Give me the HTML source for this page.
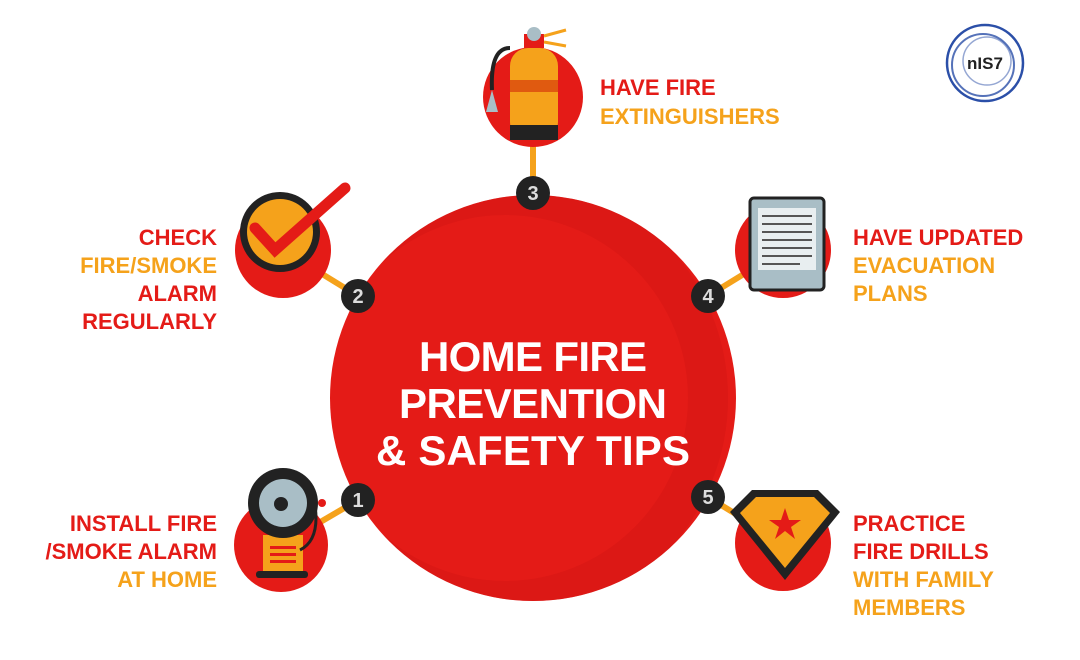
<!DOCTYPE html>
<html><head><meta charset="utf-8"><style>
body{margin:0;background:#fff;width:1080px;height:660px;overflow:hidden}
svg{display:block}
text{font-family:"Liberation Sans",sans-serif;font-weight:bold}
</style></head><body>
<svg width="1080" height="660" viewBox="0 0 1080 660">
<defs><clipPath id="cc"><circle cx="533" cy="398" r="203"/></clipPath></defs>
<g stroke="#f5a21b" stroke-width="6">
<line x1="281" y1="545" x2="358" y2="500"/><line x1="283" y1="250" x2="358" y2="296"/>
<line x1="533" y1="97" x2="533" y2="193"/><line x1="783" y1="250" x2="708" y2="296"/>
<line x1="783" y1="543" x2="708" y2="497"/>
</g>
<circle cx="533" cy="398" r="203" fill="#e41b17"/>
<g clip-path="url(#cc)"><circle cx="505" cy="398" r="203" fill="none" stroke="#d41513" stroke-width="40" stroke-dasharray="0 0" opacity="0.5" transform="rotate(0)"/></g>
<circle cx="533" cy="398" r="203" fill="none" stroke="#e41b17" stroke-width="0"/>
<g fill="#fff" font-size="42" text-anchor="middle">
<text x="533" y="371" textLength="228">HOME FIRE</text><text x="533" y="418" textLength="268">PREVENTION</text><text x="533" y="465" textLength="314">&amp; SAFETY TIPS</text>
</g>
<g>
<circle cx="281" cy="545" r="47" fill="#e41b17"/>
<rect x="263" y="535" width="40" height="40" fill="#f5a21b"/>
<rect x="270" y="546" width="26" height="3" fill="#e41b17"/><rect x="270" y="553" width="26" height="3" fill="#e41b17"/><rect x="270" y="560" width="26" height="3" fill="#e41b17"/>
<rect x="256" y="571" width="52" height="7" rx="3" fill="#222"/>
<path d="M315 505 Q320 540 300 550" stroke="#222" stroke-width="3" fill="none"/><circle cx="322" cy="503" r="4" fill="#e41b17"/>
<circle cx="283" cy="503" r="35" fill="#222"/><circle cx="283" cy="503" r="24" fill="#a9bec6"/><circle cx="281" cy="504" r="7" fill="#222"/>
</g>
<g>
<circle cx="283" cy="250" r="48" fill="#e41b17"/>
<circle cx="280" cy="232" r="40" fill="#222"/><circle cx="280" cy="232" r="33" fill="#f5a21b"/>
<path d="M255 228 L275 250 L345 188" stroke="#e41b17" stroke-width="11" fill="none" stroke-linecap="round"/>
</g>
<g>
<circle cx="533" cy="97" r="50" fill="#e41b17"/>
<path d="M510 48 Q490 48 492 90" stroke="#222" stroke-width="4" fill="none"/><path d="M486 112 L492 90 L498 112Z" fill="#a9bec6"/>
<rect x="510" y="48" width="48" height="92" rx="18" fill="#f5a21b"/>
<rect x="510" y="80" width="48" height="12" fill="#e05a10"/><rect x="510" y="125" width="48" height="15" fill="#222"/>
<rect x="524" y="34" width="20" height="14" fill="#e41b17"/><circle cx="534" cy="34" r="7" fill="#a9bec6"/>
<path d="M544 36 L566 30 M544 42 L566 46" stroke="#f5a21b" stroke-width="3"/>
</g>
<g>
<circle cx="783" cy="250" r="48" fill="#e41b17"/>
<rect x="750" y="198" width="74" height="92" rx="4" fill="#a9bec6" stroke="#222" stroke-width="3"/>
<rect x="758" y="208" width="58" height="62" fill="#e8eef0"/>
<g stroke="#555" stroke-width="2"><line x1="762" y1="216" x2="812" y2="216"/><line x1="762" y1="224" x2="812" y2="224"/><line x1="762" y1="232" x2="812" y2="232"/><line x1="762" y1="240" x2="812" y2="240"/><line x1="762" y1="248" x2="812" y2="248"/><line x1="762" y1="256" x2="812" y2="256"/><line x1="762" y1="264" x2="800" y2="264"/></g>
</g>
<g>
<circle cx="783" cy="543" r="48" fill="#e41b17"/>
<path d="M752 490 L818 490 L840 512 L785 580 L730 512Z" fill="#222"/>
<path d="M756 497 L814 497 L830 513 L785 568 L740 513Z" fill="#f5a21b"/>
<polygon points="785,508 789,520 801,520 791,527 795,539 785,531 775,539 779,527 769,520 781,520" fill="#e41b17"/>
</g>
<g font-size="20" text-anchor="middle" fill="#ddd">
<circle cx="358" cy="500" r="17" fill="#222"/><text x="358" y="507">1</text>
<circle cx="358" cy="296" r="17" fill="#222"/><text x="358" y="303">2</text>
<circle cx="533" cy="193" r="17" fill="#222"/><text x="533" y="200">3</text>
<circle cx="708" cy="296" r="17" fill="#222"/><text x="708" y="303">4</text>
<circle cx="708" cy="497" r="17" fill="#222"/><text x="708" y="504">5</text>
</g>
<g font-size="22">
<g text-anchor="end">
<text x="217" y="245" fill="#e41b17">CHECK</text><text x="217" y="273" fill="#f5a21b">FIRE/SMOKE</text><text x="217" y="301" fill="#e41b17">ALARM</text><text x="217" y="329" fill="#e41b17">REGULARLY</text>
<text x="217" y="531" fill="#e41b17">INSTALL FIRE</text><text x="217" y="559" fill="#e41b17">/SMOKE ALARM</text><text x="217" y="587" fill="#f5a21b">AT HOME</text>
</g>
<text x="600" y="95" fill="#e41b17">HAVE FIRE</text><text x="600" y="124" fill="#f5a21b">EXTINGUISHERS</text>
<text x="853" y="245" fill="#e41b17">HAVE UPDATED</text><text x="853" y="273" fill="#f5a21b">EVACUATION</text><text x="853" y="301" fill="#f5a21b">PLANS</text>
<text x="853" y="531" fill="#e41b17">PRACTICE</text><text x="853" y="559" fill="#e41b17">FIRE DRILLS</text><text x="853" y="587" fill="#f5a21b">WITH FAMILY</text><text x="853" y="615" fill="#f5a21b">MEMBERS</text>
</g>
<g fill="none" stroke="#2b4fa8">
<circle cx="985" cy="63" r="38" stroke-width="2.5"/><circle cx="983" cy="65" r="31" stroke-width="2" opacity="0.8"/><circle cx="987" cy="61" r="24" stroke-width="1.5" opacity="0.5"/>
<text x="985" y="69" font-size="17" fill="#222" stroke="none" text-anchor="middle">nIS7</text>
</g>
</svg>
</body></html>
